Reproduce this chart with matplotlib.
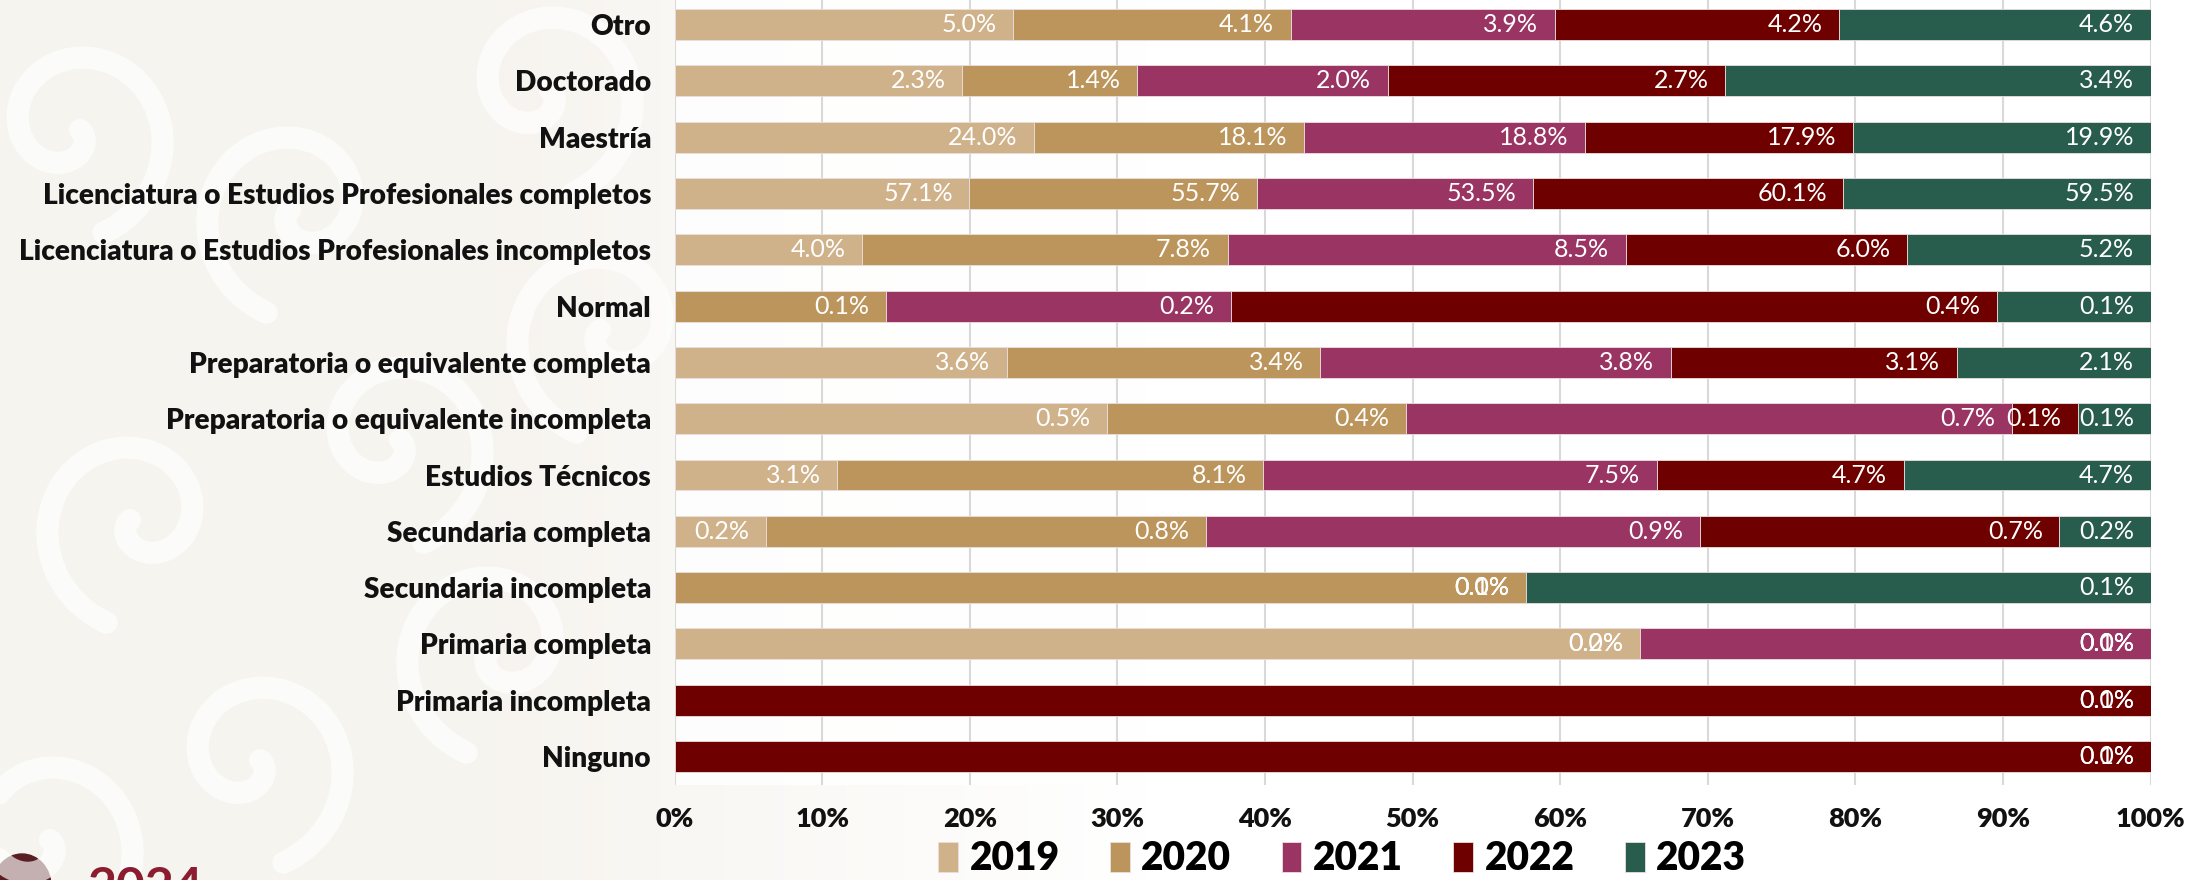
import numpy as np
import matplotlib.pyplot as plt
from matplotlib.patches import Ellipse

plt.rcParams['font.family'] = ['Lato', 'DejaVu Sans']

categorias = ['Otro', 'Doctorado', 'Maestría',
              'Licenciatura o Estudios Profesionales completos',
              'Licenciatura o Estudios Profesionales incompletos',
              'Normal', 'Preparatoria o equivalente completa',
              'Preparatoria o equivalente incompleta', 'Estudios Técnicos',
              'Secundaria completa', 'Secundaria incompleta',
              'Primaria completa', 'Primaria incompleta', 'Ninguno']
anios = ['2019', '2020', '2021', '2022', '2023']

# porcentaje de cada año (por columna), en el orden de categorias
v2019 = [5.0, 2.3, 24.0, 57.1, 4.0, 0.0, 3.6, 0.52, 3.1, 0.17, 0.0, 0.17, 0.0, 0.0]
v2020 = [4.1, 1.4, 18.1, 55.7, 7.8, 0.11, 3.4, 0.36, 8.1, 0.82, 0.075, 0.0, 0.0, 0.0]
v2021 = [3.9, 2.0, 18.8, 53.5, 8.5, 0.18, 3.8, 0.73, 7.5, 0.92, 0.0, 0.09, 0.0, 0.0]
v2022 = [4.2, 2.7, 17.9, 60.1, 6.0, 0.40, 3.1, 0.08, 4.7, 0.67, 0.0, 0.0, 0.1, 0.1]
v2023 = [4.6, 3.4, 19.9, 59.5, 5.2, 0.08, 2.1, 0.087, 4.7, 0.17, 0.055, 0.0, 0.0, 0.0]

colores = ['#CFB18A', '#BC955C', '#9A3463', '#6E0000', '#285C4D']

fig = plt.figure(figsize=(22.04, 8.8), dpi=100)

# fondo claro con trazos blancos a la izquierda
fondo = fig.add_axes([0, 0, 1, 1], zorder=-5)
fondo.set_axis_off()
xs = np.linspace(0, 1, 500)
mezcla = np.clip((xs - 0.22) / 0.3, 0, 1)
beige = np.array([0.968, 0.957, 0.937])
grad = beige[None, :] * (1 - mezcla[:, None]) + mezcla[:, None]
fondo.imshow(grad[None, :, :], extent=[0, 2204, 880, 0], aspect='auto')
fondo.set_xlim(0, 2204)
fondo.set_ylim(880, 0)
for cx, cy, giro in [(70, 130, 1), (300, 210, -1), (540, 90, 1), (140, 520, -1),
                     (390, 440, 1), (610, 330, -1), (250, 760, 1), (500, 650, -1),
                     (40, 840, 1)]:
    t = np.linspace(0, 2.4 * np.pi, 200)
    r = 10 + 13 * t
    fondo.plot(cx + giro * r * np.cos(t), cy + r * np.sin(t), color='white',
               lw=16, alpha=0.65, solid_capstyle='round')
fondo.add_patch(Ellipse((22, 886), 58, 64, color='#5A1F22'))
fondo.text(87, 866, '2024', color='#8C1C30', fontsize=36, fontweight='bold',
           ha='left', va='top')

ax = fig.add_axes([0.3061, 0.1083, 0.6697, 0.8958])
ax.set_facecolor((1, 1, 1, 0.85))

y = np.arange(len(categorias))
datos = np.array([v2019, v2020, v2021, v2022, v2023])
totales = datos.sum(axis=0)
izq = np.zeros(len(categorias))
for i, anio in enumerate(anios):
    ancho = datos[i] / totales * 100
    ax.barh(y, ancho, left=izq, height=0.55, color=colores[i],
            edgecolor='#EADFDF', linewidth=0.6, label=anio, zorder=3)
    for j in range(len(categorias)):
        if datos[i, j] > 0 or izq[j] > 0:
            ax.annotate(f'{datos[i, j]:.1f}%', xy=(izq[j] + ancho[j], y[j]),
                        xytext=(-12, 0), textcoords='offset points',
                        ha='right', va='center', color='white',
                        fontsize=18, fontweight='normal', zorder=4)
    izq = izq + ancho

ax.set_xlim(0, 100)
ax.set_ylim(len(categorias) - 0.5, -0.5)
ax.set_xticks(np.arange(0, 101, 10))
ax.set_xticklabels([f'{t}%' for t in range(0, 101, 10)], fontsize=19.5,
                   fontweight='heavy', color='#111111')
ax.set_yticks(y)
ax.set_yticklabels(categorias, fontsize=20.2, fontweight='heavy', color='#111111')
ax.tick_params(axis='x', length=0, pad=16)
ax.tick_params(axis='y', length=0, pad=17)
ax.grid(axis='x', color='#D9D9D9', linewidth=1.5, zorder=0)
ax.set_axisbelow(True)
for s in ax.spines.values():
    s.set_visible(False)

fig.legend(loc='center', bbox_to_anchor=(0.609, 0.024), ncol=5, frameon=False,
           prop={'size': 28, 'weight': 'heavy'}, handlelength=0.5,
           handleheight=0.8, handletextpad=0.3, columnspacing=1.3,
           borderpad=0)

fig.savefig('out.png', dpi=100)
